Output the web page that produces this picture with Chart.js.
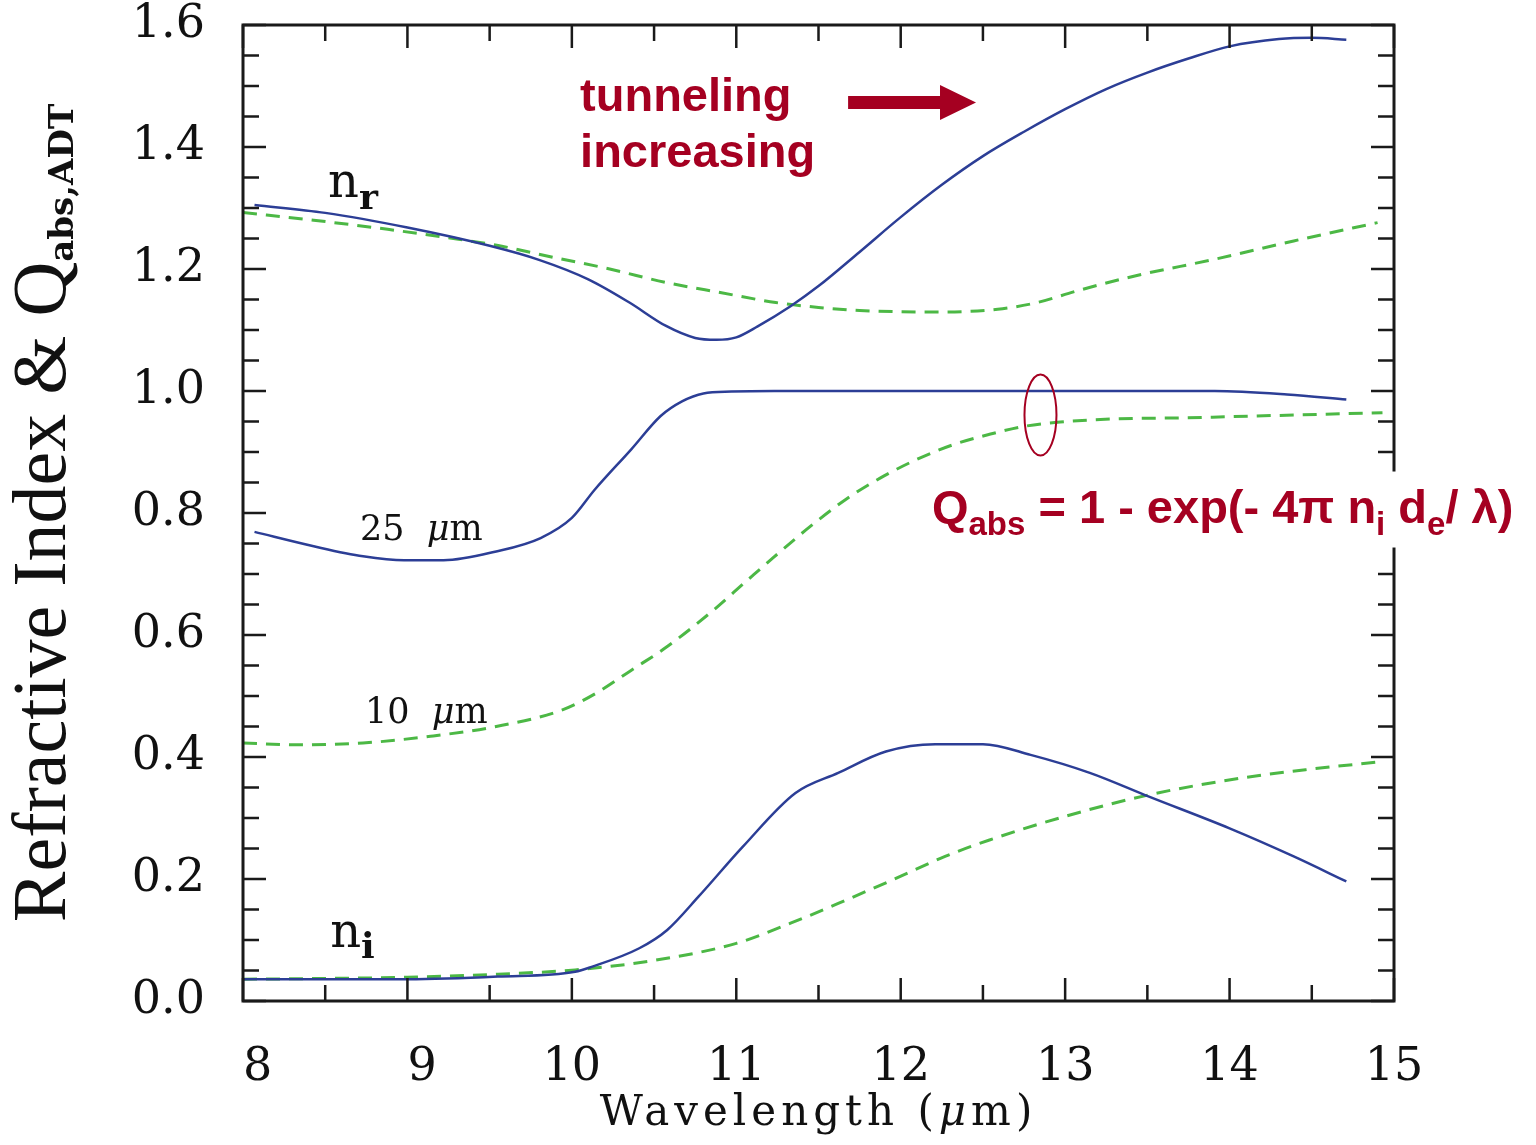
<!DOCTYPE html>
<html>
<head>
<meta charset="utf-8">
<script src="https://cdn.jsdelivr.net/npm/chart.js@4.4.0/dist/chart.umd.min.js"></script>
<style>
  html, body { margin: 0; padding: 0; background: #fff; }
  #wrap { width: 1536px; height: 1145px; }
</style>
</head>
<body>
<div id="wrap"><canvas id="chart" width="1536" height="1145"></canvas></div>
<script>
// values (wavelength in micron)
var nrSolidWl = [8.07, 8.5, 9.0, 9.5, 9.8, 10.1, 10.35, 10.57, 10.75, 10.88, 11.0, 11.13, 11.33, 11.5, 11.75, 12.0, 12.25, 12.5, 12.75, 13.0, 13.25, 13.5, 13.75, 14.0, 14.3, 14.5, 14.71];
var nrSolid   = [1.305, 1.292, 1.268, 1.238, 1.215, 1.183, 1.145, 1.107, 1.087, 1.084, 1.088, 1.106, 1.139, 1.172, 1.228, 1.285, 1.338, 1.385, 1.425, 1.462, 1.495, 1.522, 1.545, 1.565, 1.577, 1.579, 1.576];

var nrDashedWl = [8.0, 8.43, 8.88, 9.24, 9.56, 9.89, 10.23, 10.57, 10.91, 11.24, 11.5, 11.75, 12.0, 12.25, 12.59, 12.83, 13.07, 13.43, 13.91, 14.39, 14.9];
var nrDashed   = [1.2925, 1.280, 1.265, 1.2515, 1.238, 1.219, 1.200, 1.178, 1.161, 1.145, 1.137, 1.132, 1.130, 1.1295, 1.134, 1.145, 1.164, 1.189, 1.216, 1.246, 1.276];

var q25Wl = [8.07, 8.43, 8.73, 8.98, 9.22, 9.54, 9.81, 10.0, 10.14, 10.36, 10.54, 10.67, 10.8, 10.97, 11.23, 12.0, 13.0, 13.91, 14.35, 14.71];
var q25   = [0.769, 0.7455, 0.729, 0.7225, 0.7225, 0.737, 0.759, 0.792, 0.8385, 0.904, 0.959, 0.983, 0.996, 0.999, 1.0, 1.0, 1.0, 1.0, 0.9944, 0.986];

var q10Wl = [8.0, 8.33, 8.73, 9.14, 9.54, 9.95, 10.15, 10.36, 10.58, 10.84, 11.06, 11.23, 11.45, 11.67, 11.88, 12.1, 12.32, 12.54, 12.75, 12.97, 13.33, 13.72, 14.3, 14.93];
var q10   = [0.423, 0.420, 0.423, 0.434, 0.450, 0.478, 0.505, 0.542, 0.581, 0.636, 0.688, 0.728, 0.778, 0.823, 0.858, 0.888, 0.912, 0.929, 0.942, 0.949, 0.9545, 0.956, 0.960, 0.9644];

var niSolidWl = [8.0, 9.0, 9.55, 10.02, 10.12, 10.41, 10.58, 10.77, 11.04, 11.36, 11.62, 11.91, 12.21, 12.5, 12.79, 13.15, 13.51, 14.0, 14.39, 14.71];
var niSolid   = [0.0356, 0.0356, 0.040, 0.048, 0.056, 0.0865, 0.1165, 0.171, 0.253, 0.341, 0.374, 0.409, 0.421, 0.421, 0.4035, 0.374, 0.335, 0.283, 0.237, 0.196];

var niDashedWl = [8.0, 9.0, 9.55, 10.02, 10.51, 11.0, 11.33, 11.62, 11.95, 12.27, 12.54, 13.03, 13.51, 14.06, 14.49, 14.91];
var niDashed   = [0.0356, 0.039, 0.044, 0.051, 0.067, 0.0945, 0.1275, 0.160, 0.1985, 0.237, 0.264, 0.305, 0.338, 0.365, 0.380, 0.392];

var xRange = [8, 15];
var yRange = [0, 1.6];

var BLUE = '#2c3e96';
var GREEN = '#4cb845';
var RED = '#a50021';

function pts(xs, ys) {
  return xs.map(function (x, i) { return { x: x, y: ys[i] }; });
}

function solid(xs, ys) {
  return { data: pts(xs, ys), borderColor: BLUE, borderWidth: 2.5, pointRadius: 0,
           showLine: true, cubicInterpolationMode: 'monotone' };
}
function dashed(xs, ys) {
  return { data: pts(xs, ys), borderColor: GREEN, borderWidth: 3, borderDash: [14, 9],
           pointRadius: 0, showLine: true, cubicInterpolationMode: 'monotone' };
}

// draw a row of text pieces, each with its own font and baseline shift
function runs(ctx, x, y, parts) {
  var cx = x;
  parts.forEach(function (p) {
    ctx.font = p.f;
    ctx.fillText(p.t, cx, y + (p.dy || 0));
    cx += ctx.measureText(p.t).width;
  });
  return cx - x;
}
function runsWidth(ctx, parts) {
  var w = 0;
  parts.forEach(function (p) { ctx.font = p.f; w += ctx.measureText(p.t).width; });
  return w;
}

var frame = {
  id: 'frame',
  afterDatasetsDraw: function (chart) {
    var ctx = chart.ctx, a = chart.chartArea, x = chart.scales.x, y = chart.scales.y;
    ctx.save();
    ctx.strokeStyle = '#1a1a1a';
    ctx.lineWidth = 2.5;
    ctx.beginPath();
    for (var i = 0; i <= 14; i++) {
      var px = x.getPixelForValue(xRange[0] + i * 0.5);
      var len = i % 2 === 0 ? 23 : 16;
      ctx.moveTo(px, a.bottom); ctx.lineTo(px, a.bottom - len);
      ctx.moveTo(px, a.top); ctx.lineTo(px, a.top + len);
    }
    for (var j = 0; j <= 32; j++) {
      var py = y.getPixelForValue(j * 0.05);
      var l2 = j % 4 === 0 ? 23 : 16;
      ctx.moveTo(a.left, py); ctx.lineTo(a.left + l2, py);
      ctx.moveTo(a.right, py); ctx.lineTo(a.right - l2, py);
    }
    ctx.stroke();
    ctx.lineWidth = 3;
    ctx.strokeRect(a.left, a.top, a.right - a.left, a.bottom - a.top);
    ctx.restore();
  },
  afterDraw: function (chart) {
    var ctx = chart.ctx, a = chart.chartArea, x = chart.scales.x, y = chart.scales.y;
    ctx.save();
    ctx.fillStyle = '#111';
    ctx.textAlign = 'left';
    ctx.textBaseline = 'alphabetic';

    // y axis title
    var yMain = [{ t: 'Refractive Index & Q', f: '76px "Liberation Serif"' },
                 { t: 'abs,ADT', f: 'bold 34px "DejaVu Serif"', dy: 8 }];
    var yw = runsWidth(ctx, yMain);
    ctx.save();
    ctx.translate(65, (a.top + a.bottom) / 2 + yw / 2);
    ctx.rotate(-Math.PI / 2);
    runs(ctx, 0, 0, yMain);
    ctx.restore();

    // x axis title
    ctx.letterSpacing = '5px';
    var xMain = [{ t: 'Wavelength (', f: '42px "DejaVu Serif"' },
                 { t: 'μ', f: 'italic 42px "DejaVu Serif"' },
                 { t: 'm)', f: '42px "DejaVu Serif"' }];
    var xw = runsWidth(ctx, xMain);
    runs(ctx, (a.left + a.right) / 2 - xw / 2, 1125, xMain);
    ctx.letterSpacing = '0px';

    // curve labels
    runs(ctx, x.getPixelForValue(8.517), y.getPixelForValue(1.318), [
      { t: 'n', f: '48px "DejaVu Serif"' },
      { t: 'r', f: 'bold 36px "DejaVu Serif"', dy: 12 }]);
    runs(ctx, x.getPixelForValue(8.53), y.getPixelForValue(0.088), [
      { t: 'n', f: '48px "DejaVu Serif"' },
      { t: 'i', f: 'bold 36px "DejaVu Serif"', dy: 11 }]);
    runs(ctx, x.getPixelForValue(8.712), y.getPixelForValue(0.7565), [
      { t: '25  ', f: '35px "DejaVu Serif"' },
      { t: 'μ', f: 'italic 35px "DejaVu Serif"' },
      { t: 'm', f: '35px "DejaVu Serif"' }]);
    runs(ctx, x.getPixelForValue(8.742), y.getPixelForValue(0.456), [
      { t: '10  ', f: '35px "DejaVu Serif"' },
      { t: 'μ', f: 'italic 35px "DejaVu Serif"' },
      { t: 'm', f: '35px "DejaVu Serif"' }]);

    // red annotations
    ctx.fillStyle = RED;
    ctx.strokeStyle = RED;
    ctx.font = 'bold 47px "Liberation Sans"';
    ctx.fillText('tunneling', x.getPixelForValue(10.05), y.getPixelForValue(1.459));
    ctx.fillText('increasing', x.getPixelForValue(10.05), y.getPixelForValue(1.367));

    var ax0 = x.getPixelForValue(11.68), ax1 = x.getPixelForValue(12.239), ax2 = x.getPixelForValue(12.458);
    var ay = y.getPixelForValue(1.4728);
    ctx.beginPath();
    ctx.moveTo(ax0, ay - 6.5); ctx.lineTo(ax1, ay - 6.5); ctx.lineTo(ax1, ay - 17.5);
    ctx.lineTo(ax2, ay); ctx.lineTo(ax1, ay + 17.5); ctx.lineTo(ax1, ay + 6.5);
    ctx.lineTo(ax0, ay + 6.5); ctx.closePath();
    ctx.fill();

    ctx.lineWidth = 2;
    ctx.beginPath();
    ctx.ellipse(x.getPixelForValue(12.85), y.getPixelForValue(0.9608), 16, 40.5, 0, 0, Math.PI * 2);
    ctx.stroke();

    // formula on a white box over the right frame
    var fx = x.getPixelForValue(12.19), fy = y.getPixelForValue(0.7844);
    ctx.fillStyle = '#fff';
    ctx.fillRect(fx - 7, fy - 51, chart.width - fx + 7, 76);
    ctx.fillStyle = RED;
    var B = 'bold 47px "Liberation Sans"', S = 'bold 33px "Liberation Sans"';
    runs(ctx, fx, fy, [
      { t: 'Q', f: B }, { t: 'abs', f: S, dy: 12 },
      { t: ' = 1 - exp(- 4π n', f: B }, { t: 'i', f: S, dy: 12 },
      { t: ' d', f: B }, { t: 'e', f: S, dy: 12 },
      { t: '/ λ)', f: B }]);
    ctx.restore();
  }
};

var tickFont = { family: '"DejaVu Serif"', size: 46, lineHeight: 1 };

new Chart(document.getElementById('chart'), {
  type: 'scatter',
  data: {
    datasets: [
      solid(nrSolidWl, nrSolid),
      dashed(nrDashedWl, nrDashed),
      solid(q25Wl, q25),
      dashed(q10Wl, q10),
      solid(niSolidWl, niSolid),
      dashed(niDashedWl, niDashed)
    ]
  },
  options: {
    responsive: false,
    animation: false,
    devicePixelRatio: 1,
    layout: { padding: { left: 0, right: 142, top: 25, bottom: 0 } },
    plugins: { legend: { display: false }, tooltip: { enabled: false } },
    scales: {
      x: {
        type: 'linear', min: xRange[0], max: xRange[1],
        afterFit: function (s) { s.height = 144; s.paddingLeft = 0; s.paddingRight = 0; },
        grid: { display: false, drawTicks: false },
        border: { display: false },
        ticks: {
          stepSize: 1, autoSkip: false, maxRotation: 0, padding: 44,
          color: '#111', font: tickFont,
          callback: function (v) { return v < 10 ? '  ' + v : String(v); }
        }
      },
      y: {
        type: 'linear', min: yRange[0], max: yRange[1],
        afterFit: function (s) { s.width = 243; s.paddingTop = 0; s.paddingBottom = 0; },
        grid: { display: false, drawTicks: false },
        border: { display: false },
        ticks: {
          stepSize: 0.2, padding: 38, color: '#111', font: tickFont,
          callback: function (v) { return Number(v).toFixed(1); }
        }
      }
    }
  },
  plugins: [frame]
});
</script>
</body>
</html>
